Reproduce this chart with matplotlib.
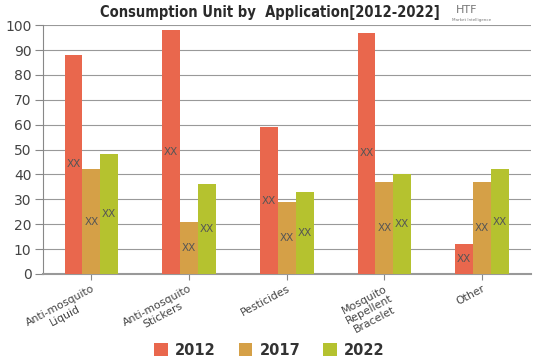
import matplotlib
matplotlib.use("Agg")
import matplotlib.pyplot as plt
import numpy as np

categories = ["Anti-mosquito\nLiquid", "Anti-mosquito\nStickers", "Pesticides",
              "Mosquito\nRepellent\nBracelet", "Other"]
series_names = ["2012", "2017", "2022"]
v2012 = [88, 98, 59, 97, 12]
v2017 = [42, 21, 29, 37, 37]
v2022 = [48, 36, 33, 40, 42]
yticks = [0, 10, 20, 30, 40, 50, 60, 70, 80, 90, 100]
colors = ["#E9674D", "#D5A047", "#B5C22F"]

fig = plt.figure(figsize=(5.39, 3.59), dpi=100)
ax = fig.add_axes([0.079, 0.237, 0.906, 0.693])

x = np.arange(len(categories))
w = 0.183
for i, (vals, c, name) in enumerate(zip([v2012, v2017, v2022], colors, series_names)):
    pos = x + (i - 1) * w
    ax.bar(pos, vals, width=w, color=c, label=name, zorder=3)
    for p, v in zip(pos, vals):
        ax.text(p, v / 2, "XX", ha="center", va="center", fontsize=7.5,
                color="#555555", zorder=4)

ax.set_xlim(-0.5, len(categories) - 0.5)
ax.set_ylim(0, 100)
ax.set_yticks(yticks)
ax.tick_params(axis="y", labelsize=10, colors="#444444", length=6, width=0.8, pad=2)
ax.tick_params(axis="y", color="#888888")
ax.set_xticks(x)
ax.set_xticklabels(categories, rotation=28, ha="right", rotation_mode="anchor",
                   fontsize=7.8, color="#444444", linespacing=1.1,
                   multialignment="center")
ax.tick_params(axis="x", length=4, color="#888888", pad=3)
ax.grid(axis="y", color="#999999", linewidth=0.8, zorder=0)
for s in ["top", "right"]:
    ax.spines[s].set_visible(False)
ax.spines["left"].set_color("#888888")
ax.spines["bottom"].set_color("#999999")
ax.spines["bottom"].set_linewidth(1.5)

fig.text(0.5, 0.965, "Consumption Unit by  Application[2012-2022]", ha="center",
         va="center", fontsize=10.5, fontweight="heavy", fontstretch="condensed",
         color="#2a2a2a")
fig.text(0.865, 0.972, "HTF", ha="center", va="center", fontsize=8, color="#777777")
fig.text(0.875, 0.945, "Market Intelligence", ha="center", va="center", fontsize=3,
         color="#777777")

leg = fig.legend(loc="center", bbox_to_anchor=(0.5, 0.025), ncol=3, frameon=False,
                 fontsize=10.5, handlelength=0.9, handleheight=0.9, handletextpad=0.5,
                 columnspacing=1.6)
for t in leg.get_texts():
    t.set_color("#333333")
    t.set_fontweight("semibold")

fig.savefig("out.png", dpi=100)
